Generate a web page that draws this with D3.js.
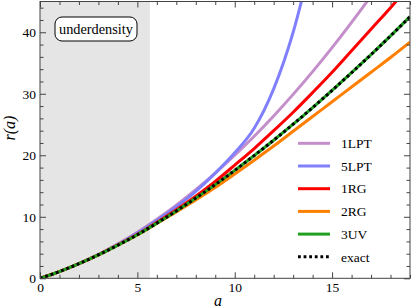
<!DOCTYPE html>
<html>
<head>
<meta charset="utf-8">
<script src="https://cdn.jsdelivr.net/npm/d3@7"></script>
<style>
  body { margin: 0; background: #fff; }
  svg { display: block; }
</style>
</head>
<body>
<svg></svg>
<script>
// chart size
var width = 411;
var height = 308;
var plotLeft = 40, plotRight = 410, plotTop = 1.5, plotBottom = 278.3;

// data (scale factor a, radius r)
var aValues = [0, 1, 2, 3, 4, 5, 6, 7, 8, 9, 10, 11, 12, 13, 14, 15, 16, 17, 18, 19];
var lpt1  = [0, 1.1, 2.4, 3.9, 5.6, 7.5, 9.6, 11.9, 14.4, 17.1, 20.0, 23.1, 26.4, 29.9, 33.6, 37.5, 41.6, 45.9, 50.4, 55.1];
var lpt5  = [0, 1.1, 2.38, 3.85, 5.5, 7.35, 9.4, 11.65, 14.15, 17.1, 20.4, 24.4, 30.8, 40.0, 52.5, null, null, null, null, null];
var rg1   = [0, 1.1, 2.38, 3.82, 5.43, 7.15, 9.1, 11.15, 13.35, 15.75, 18.4, 21.1, 24.0, 27.0, 30.2, 33.5, 37.0, 40.5, 44.0, 47.6];
var rg2   = [0, 1.1, 2.37, 3.8, 5.38, 7.05, 8.9, 10.8, 12.75, 14.75, 16.95, 19.2, 21.5, 23.9, 26.3, 28.7, 31.1, 33.5, 35.9, 38.4];
var uv3   = [0, 1.1, 2.37, 3.81, 5.39, 7.08, 8.97, 10.95, 13.04, 15.23, 17.54, 19.96, 22.45, 25.05, 27.76, 30.55, 33.42, 36.37, 39.40, 42.55];
var exact = [0, 1.1, 2.37, 3.81, 5.39, 7.08, 8.97, 10.95, 13.04, 15.23, 17.54, 19.96, 22.45, 25.05, 27.76, 30.55, 33.42, 36.37, 39.40, 42.51];

var seriesNames = ["1LPT", "5LPT", "1RG", "2RG", "3UV", "exact"];
var seriesValues = [lpt1, lpt5, rg1, rg2, uv3, exact];
var seriesColors = ["#c48ecb", "#8080ff", "#ff0000", "#ff8000", "#1fa01f", "#000000"];

var underdensityEnd = 5.64;
var xMajor = [0, 5, 10, 15];
var yMajor = [0, 10, 20, 30, 40];

var serif = "'Liberation Serif', 'DejaVu Serif', serif";

var xScale = d3.scaleLinear().domain([0, 19]).range([plotLeft, plotRight]);
var yScale = d3.scaleLinear().domain([0, 45]).range([plotBottom, plotTop]);

var svg = d3.select("svg")
            .attr("width", width)
            .attr("height", height);

svg.append("defs").append("clipPath")
    .attr("id", "plot-clip")
  .append("rect")
    .attr("x", plotLeft)
    .attr("y", plotTop)
    .attr("width", plotRight - plotLeft)
    .attr("height", plotBottom - plotTop);

// shaded underdensity band
svg.append("rect")
    .attr("x", xScale(0))
    .attr("y", plotTop)
    .attr("width", xScale(underdensityEnd) - xScale(0))
    .attr("height", plotBottom - plotTop)
    .attr("fill", "#e5e5e5");

// curves
var line = d3.line()
    .defined(d => d[1] !== null)
    .x(d => xScale(d[0]))
    .y(d => yScale(d[1]))
    .curve(d3.curveMonotoneX);

var curves = svg.append("g").attr("clip-path", "url(#plot-clip)");

seriesValues.forEach(function(vals, i) {
  var pts = aValues.map((a, j) => [a, vals[j]]);
  var path = curves.append("path")
      .datum(pts)
      .attr("d", line)
      .attr("fill", "none")
      .attr("stroke", seriesColors[i])
      .attr("stroke-width", 3);
  if (seriesNames[i] === "exact") {
    path.attr("stroke-dasharray", "2.8,2.8");
  }
});

// frame and ticks
var minorX = d3.range(0, 20, 1).filter(v => v % 5 !== 0);
var minorY = d3.range(0, 46, 2).filter(v => v % 10 !== 0);

function styleAxis(g) {
  g.select(".domain").remove();
  g.attr("color", "#444")
   .attr("font-family", serif)
   .attr("font-size", 13.5);
  g.selectAll("text").attr("fill", "#000");
}

svg.append("g")
    .attr("transform", "translate(0," + plotBottom + ")")
    .call(d3.axisBottom(xScale).tickValues(xMajor).tickSize(-6).tickPadding(4))
    .call(styleAxis);
svg.append("g")
    .attr("transform", "translate(0," + plotBottom + ")")
    .call(d3.axisBottom(xScale).tickValues(minorX).tickSize(-3.5).tickFormat(""))
    .call(styleAxis);
svg.append("g")
    .attr("transform", "translate(0," + plotTop + ")")
    .call(d3.axisTop(xScale).tickValues(xMajor).tickSize(-6).tickFormat(""))
    .call(styleAxis);
svg.append("g")
    .attr("transform", "translate(0," + plotTop + ")")
    .call(d3.axisTop(xScale).tickValues(minorX).tickSize(-3.5).tickFormat(""))
    .call(styleAxis);

svg.append("g")
    .attr("transform", "translate(" + plotLeft + ",0)")
    .call(d3.axisLeft(yScale).tickValues(yMajor).tickSize(-6).tickPadding(4))
    .call(styleAxis);
svg.append("g")
    .attr("transform", "translate(" + plotLeft + ",0)")
    .call(d3.axisLeft(yScale).tickValues(minorY).tickSize(-3.5).tickFormat(""))
    .call(styleAxis);
svg.append("g")
    .attr("transform", "translate(" + plotRight + ",0)")
    .call(d3.axisRight(yScale).tickValues(yMajor).tickSize(-6).tickFormat(""))
    .call(styleAxis);
svg.append("g")
    .attr("transform", "translate(" + plotRight + ",0)")
    .call(d3.axisRight(yScale).tickValues(minorY).tickSize(-3.5).tickFormat(""))
    .call(styleAxis);

svg.append("rect")
    .attr("x", plotLeft)
    .attr("y", plotTop)
    .attr("width", plotRight - plotLeft)
    .attr("height", plotBottom - plotTop)
    .attr("fill", "none")
    .attr("stroke", "#444")
    .attr("stroke-width", 1);

// axis titles
svg.append("text")
    .attr("x", 218)
    .attr("y", 306)
    .attr("text-anchor", "middle")
    .attr("font-family", serif)
    .attr("font-style", "italic")
    .attr("font-size", 16)
    .text("a");

svg.append("text")
    .attr("transform", "translate(15,128) rotate(-90)")
    .attr("text-anchor", "middle")
    .attr("font-family", serif)
    .attr("font-style", "italic")
    .attr("font-size", 16)
    .text("r(a)");

// underdensity label
svg.append("rect")
    .attr("x", 55)
    .attr("y", 17)
    .attr("width", 82)
    .attr("height", 24)
    .attr("rx", 7)
    .attr("fill", "#fff")
    .attr("stroke", "#000")
    .attr("stroke-width", 1);
svg.append("text")
    .attr("x", 96)
    .attr("y", 29)
    .attr("dy", "0.35em")
    .attr("text-anchor", "middle")
    .attr("font-family", serif)
    .attr("font-size", 14.3)
    .text("underdensity");

// legend
var legend = svg.append("g");
seriesNames.forEach(function(name, i) {
  var ly = 143.3 + i * 22.7;
  var l = legend.append("line")
      .attr("x1", 298)
      .attr("x2", 330)
      .attr("y1", ly)
      .attr("y2", ly)
      .attr("stroke", seriesColors[i])
      .attr("stroke-width", 3);
  if (name === "exact") l.attr("stroke-dasharray", "2.8,2.8");
  legend.append("text")
      .attr("x", 341)
      .attr("y", ly)
      .attr("dy", "0.35em")
      .attr("font-family", serif)
      .attr("font-size", 13.5)
      .text(name);
});
</script>
</body>
</html>
